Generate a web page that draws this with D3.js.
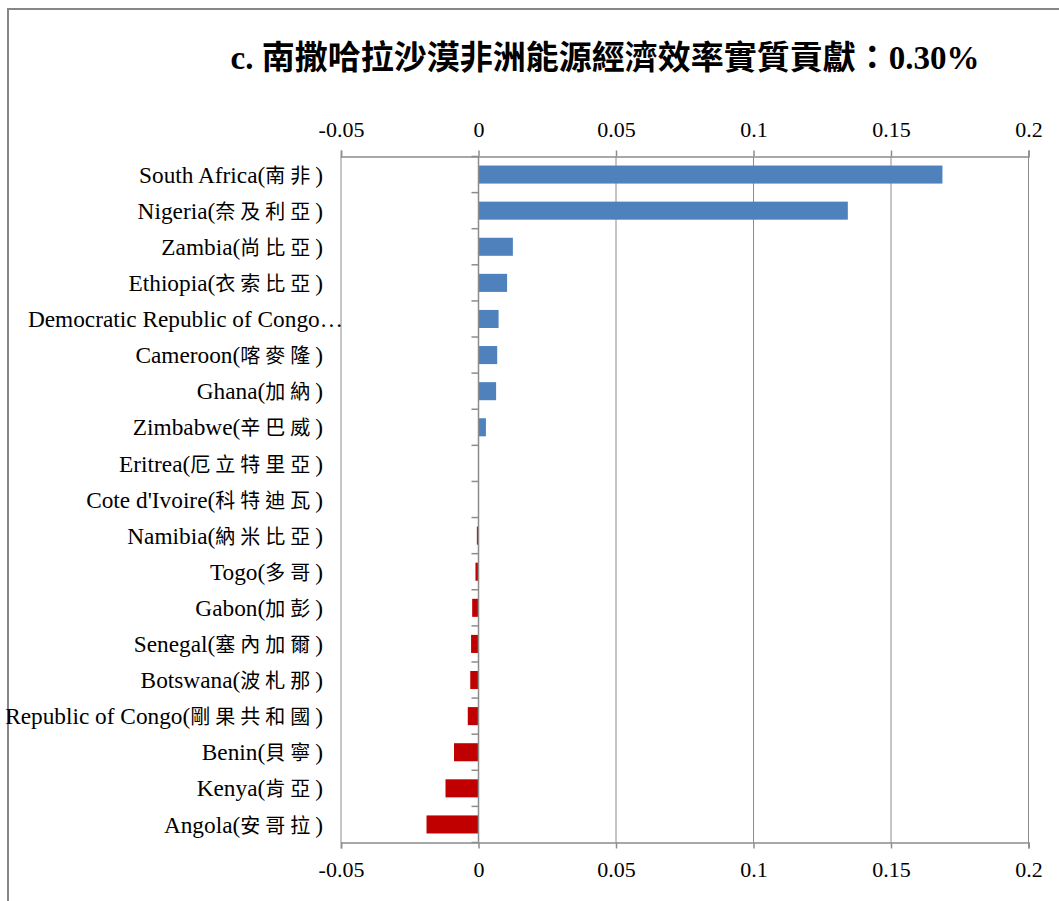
<!DOCTYPE html>
<html>
<head>
<meta charset="utf-8">
<script src="https://cdn.jsdelivr.net/npm/d3@7"></script>
<style>
  html, body { margin: 0; padding: 0; background: #fff; }
  svg { display: block; }
  text { font-family: "Liberation Serif", "Times New Roman", "Noto Sans CJK TC", serif; fill: #000; }
</style>
</head>
<body>
<svg id="chart" width="1059" height="901"></svg>
<script>
// Contribution of each country to Sub-Saharan Africa's energy-economic efficiency (percentage points)
const chartTitle = "c. 南撒哈拉沙漠非洲能源經濟效率實質貢獻：0.30%";

const countries = [
  "South Africa(南非)",
  "Nigeria(奈及利亞)",
  "Zambia(尚比亞)",
  "Ethiopia(衣索比亞)",
  "Democratic Republic of Congo…",
  "Cameroon(喀麥隆)",
  "Ghana(加納)",
  "Zimbabwe(辛巴威)",
  "Eritrea(厄立特里亞)",
  "Cote d'Ivoire(科特迪瓦)",
  "Namibia(納米比亞)",
  "Togo(多哥)",
  "Gabon(加彭)",
  "Senegal(塞內加爾)",
  "Botswana(波札那)",
  "Republic of Congo(剛果共和國)",
  "Benin(貝寧)",
  "Kenya(肯亞)",
  "Angola(安哥拉)"
];

const contributions = [
  0.1687, 0.1343, 0.0125, 0.0104, 0.0073, 0.0068, 0.0064, 0.0027,
  0.0000, 0.0000,
  -0.0006, -0.0011, -0.0023, -0.0027, -0.0030, -0.0039, -0.0089, -0.0120, -0.0189
];

const xTicks = [-0.05, 0, 0.05, 0.1, 0.15, 0.2];
const xTickLabels = ["-0.05", "0", "0.05", "0.1", "0.15", "0.2"];

const data = countries.map((name, i) => ({ name, value: contributions[i] }));

const svg = d3.select("#chart");
const W = 1059, H = 901;
const plot = { left: 341, right: 1028.5, top: 156.5, bottom: 842.5 };

// Outer chart frame
svg.append("rect")
  .attr("x", 8).attr("y", 9)
  .attr("width", W + 10).attr("height", H + 10)
  .attr("fill", "none")
  .attr("stroke", "#868686")
  .attr("stroke-width", 2);

// Title
svg.append("text")
  .attr("x", 605).attr("y", 69)
  .attr("text-anchor", "middle")
  .style("font-size", "33px")
  .attr("font-weight", "bold")
  .text(chartTitle);

const x = d3.scaleLinear().domain([-0.05, 0.2]).range([plot.left, plot.right]);
const y = d3.scaleBand().domain(countries).range([plot.top, plot.bottom]).paddingInner(0.5).paddingOuter(0.25);

// Vertical gridlines
svg.append("g")
  .selectAll("line")
  .data(xTicks)
  .join("line")
  .attr("x1", d => x(d)).attr("x2", d => x(d))
  .attr("y1", plot.top).attr("y2", plot.bottom)
  .attr("stroke", "#8c8c8c")
  .attr("stroke-width", 1);

// Top and bottom value axes
const fmt = d => xTickLabels[xTicks.indexOf(d)];
const topAxis = d3.axisTop(x).tickValues(xTicks).tickFormat(fmt).tickSize(6).tickPadding(14);
const bottomAxis = d3.axisBottom(x).tickValues(xTicks).tickFormat(fmt).tickSize(6).tickPadding(13);

function styleAxis(g) {
  g.select(".domain").attr("stroke", "#8c8c8c").attr("stroke-width", 1.5);
  g.selectAll(".tick line").attr("stroke", "#8c8c8c").attr("stroke-width", 1.5);
  g.selectAll(".tick text")
    .style("font-size", "22px")
    .style("font-family", "'Liberation Serif', 'Times New Roman', serif")
    .attr("fill", "#000");
}

svg.append("g")
  .attr("transform", `translate(0,${plot.top})`)
  .call(topAxis)
  .call(styleAxis);

svg.append("g")
  .attr("transform", `translate(0,${plot.bottom})`)
  .call(bottomAxis)
  .call(styleAxis);

// Bars
svg.append("g")
  .selectAll("rect")
  .data(data)
  .join("rect")
  .attr("x", d => x(Math.min(0, d.value)))
  .attr("y", d => y(d.name))
  .attr("width", d => Math.abs(x(d.value) - x(0)))
  .attr("height", y.bandwidth())
  .attr("fill", d => d.value >= 0 ? "#4F81BD" : "#C00000");

// Category axis along the zero line
const step = y.step();
const catAxis = svg.append("g");
catAxis.append("line")
  .attr("x1", x(0)).attr("x2", x(0))
  .attr("y1", plot.top).attr("y2", plot.bottom)
  .attr("stroke", "#8c8c8c").attr("stroke-width", 1.5);
catAxis.selectAll("line.cat-tick")
  .data(d3.range(countries.length + 1))
  .join("line")
  .attr("class", "cat-tick")
  .attr("x1", x(0) - 7).attr("x2", x(0))
  .attr("y1", i => plot.top + i * step)
  .attr("y2", i => plot.top + i * step)
  .attr("stroke", "#8c8c8c").attr("stroke-width", 1.5);

// Category labels: Latin name, then the Chinese name with wider character spacing
const labels = svg.append("g")
  .selectAll("text")
  .data(data)
  .join("text")
  .attr("x", d => d.name.endsWith("…") ? 343 : 323)
  .attr("y", d => y(d.name) + y.bandwidth() / 2)
  .attr("dy", "0.35em")
  .attr("text-anchor", "end")
  .style("font-size", "23.3px");

labels.each(function (d) {
  const t = d3.select(this);
  const m = d.name.match(/^(.*\()([^)]*)(\))$/);
  if (!m) { t.text(d.name); return; }
  t.append("tspan").text(m[1]);
  t.append("tspan")
    .style("font-family", "'Noto Sans CJK TC', sans-serif")
    .style("font-size", "20px")
    .style("letter-spacing", "5px")
    .text(m[2]);
  t.append("tspan").text(m[3]);
});
</script>
</body>
</html>
